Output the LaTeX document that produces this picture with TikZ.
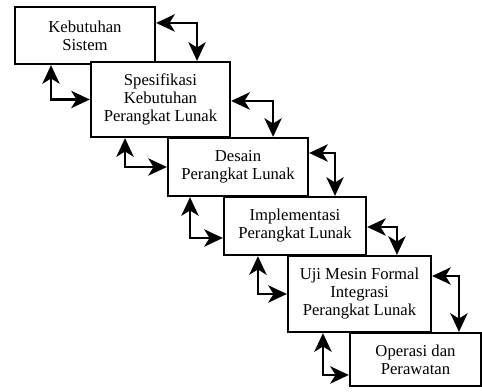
\documentclass[tikz,border=0pt]{standalone}
\usepackage{fontspec}
\setmainfont{Liberation Serif}
\usepackage{tikz}
\usetikzlibrary{arrows.meta, positioning}

\tikzset{
	tahap/.style={draw, line width=1.7pt, fill=white, align=center, inner sep=2pt,
		font=\fontsize{12.5}{13.5}\selectfont},
	balik/.style={line width=1.7pt, {Stealth[length=14pt,width=13pt,inset=4pt]}-{Stealth[length=14pt,width=13pt,inset=4pt]}}
}

\begin{document}
\begin{tikzpicture}[x=0.75pt,y=-0.75pt]
				\useasboundingbox (0,0) rectangle (482,392);
				
				% Kotak tiap tahap
				\node[tahap, minimum width=105pt, minimum height=42.75pt] (b1) at (85,35.5) {Kebutuhan\\Sistem};
				\node[tahap, minimum width=104.25pt, minimum height=56.25pt] (b2) at (160.5,99.5) {Spesifikasi\\Kebutuhan\\Perangkat Lunak};
				\node[tahap, minimum width=105pt, minimum height=43.5pt] (b3) at (238,167) {Desain\\Perangkat Lunak};
				\node[tahap, minimum width=106.5pt, minimum height=43.5pt] (b4) at (295,226) {Implementasi\\Perangkat Lunak};
				\node[tahap, minimum width=107.25pt, minimum height=57pt] (b5) at (359.5,294) {Uji Mesin Formal\\Integrasi\\Perangkat Lunak};
				\node[tahap, minimum width=98.25pt, minimum height=39.75pt] (b6) at (415.5,359.5) {Operasi dan\\Perawatan};
				
				% Panah ke tahap berikutnya
				\draw[balik] ([yshift=9.4pt]b1.east) -| ([xshift=27.4pt]b2.north);
				\draw[balik] ([yshift=-1.1pt]b2.east) -| ([xshift=26.3pt]b3.north);
				\draw[balik] ([yshift=10.5pt]b3.east) -| ([xshift=30pt]b4.north);
				\draw[balik] ([yshift=-0.75pt]b4.east) -| ([xshift=28.1pt]b5.north);
				\draw[balik] ([yshift=13.5pt]b5.east) -| ([xshift=32.6pt]b6.north);
				
				% Panah balik ke tahap sebelumnya
				\draw[balik] ([xshift=-25.5pt]b1.south) |- (b2.west);
				\draw[balik] ([xshift=-26.6pt]b2.south) |- (b3.west);
				\draw[balik] ([xshift=-36pt]b3.south) |- ([yshift=-9pt]b4.west);
				\draw[balik] ([xshift=-27.8pt]b4.south) |- (b5.west);
				\draw[balik] ([xshift=-27.4pt]b5.south) |- ([yshift=-11.6pt]b6.west);
			\end{tikzpicture}
\end{document}
